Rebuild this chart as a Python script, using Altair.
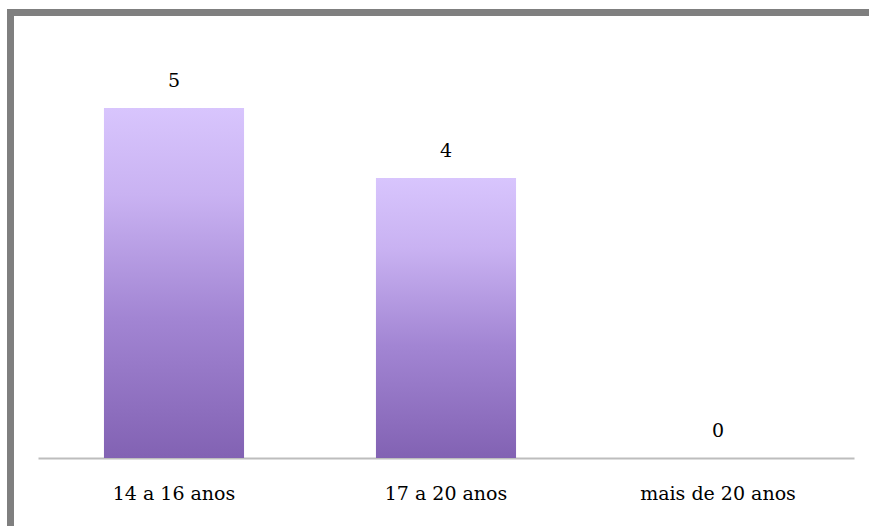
import altair as alt
import pandas as pd

categories = ["14 a 16 anos", "17 a 20 anos", "mais de 20 anos"]
values = [5, 4, 0]

df = pd.DataFrame({"faixa": categories, "n": values})

W, H = 816, 420
FONT = "DejaVu Serif"

base = alt.Chart(df).encode(
    x=alt.X("faixa:N", sort=categories,
            scale=alt.Scale(paddingInner=0.485, paddingOuter=0.2425),
            axis=alt.Axis(title=None, labelAngle=0, ticks=False, domain=True,
                          domainColor="#BDBDBD", domainWidth=2,
                          labelFont=FONT, labelFontSize=19, labelColor="#000000",
                          labelPadding=26)),
    y=alt.Y("n:Q", scale=alt.Scale(domain=[0, 6], nice=False),
            axis=None),
)

bars = base.mark_bar(
    color=alt.Gradient(
        gradient="linear", x1=0, y1=0, x2=0, y2=1,
        stops=[alt.GradientStop(color="#D8C5FD", offset=0),
               alt.GradientStop(color="#C9B2F2", offset=0.25),
               alt.GradientStop(color="#A285D3", offset=0.6),
               alt.GradientStop(color="#8262B3", offset=1)]),
    strokeWidth=0,
)

labels = base.mark_text(
    font=FONT, fontSize=19, color="#000000", baseline="middle", dy=-27
).encode(text="n:Q")

frame = alt.Chart(df).mark_rect(
    fill=None, stroke="#7F7F7F", strokeWidth=7, clip=False
).encode(
    x=alt.value(-27.5), x2=alt.value(900), y=alt.value(-25.5), y2=alt.value(560)
).transform_filter(alt.datum.faixa == categories[0])

chart = alt.layer(frame, bars, labels).properties(
    width=W, height=H,
    background="white",
    autosize=alt.AutoSizeParams(type="none"),
    padding={"left": 38, "top": 38, "right": 15, "bottom": 68},
).configure_view(strokeWidth=0, stroke="transparent")

chart.save("out.html", embed_options={"renderer": "svg", "actions": False})
